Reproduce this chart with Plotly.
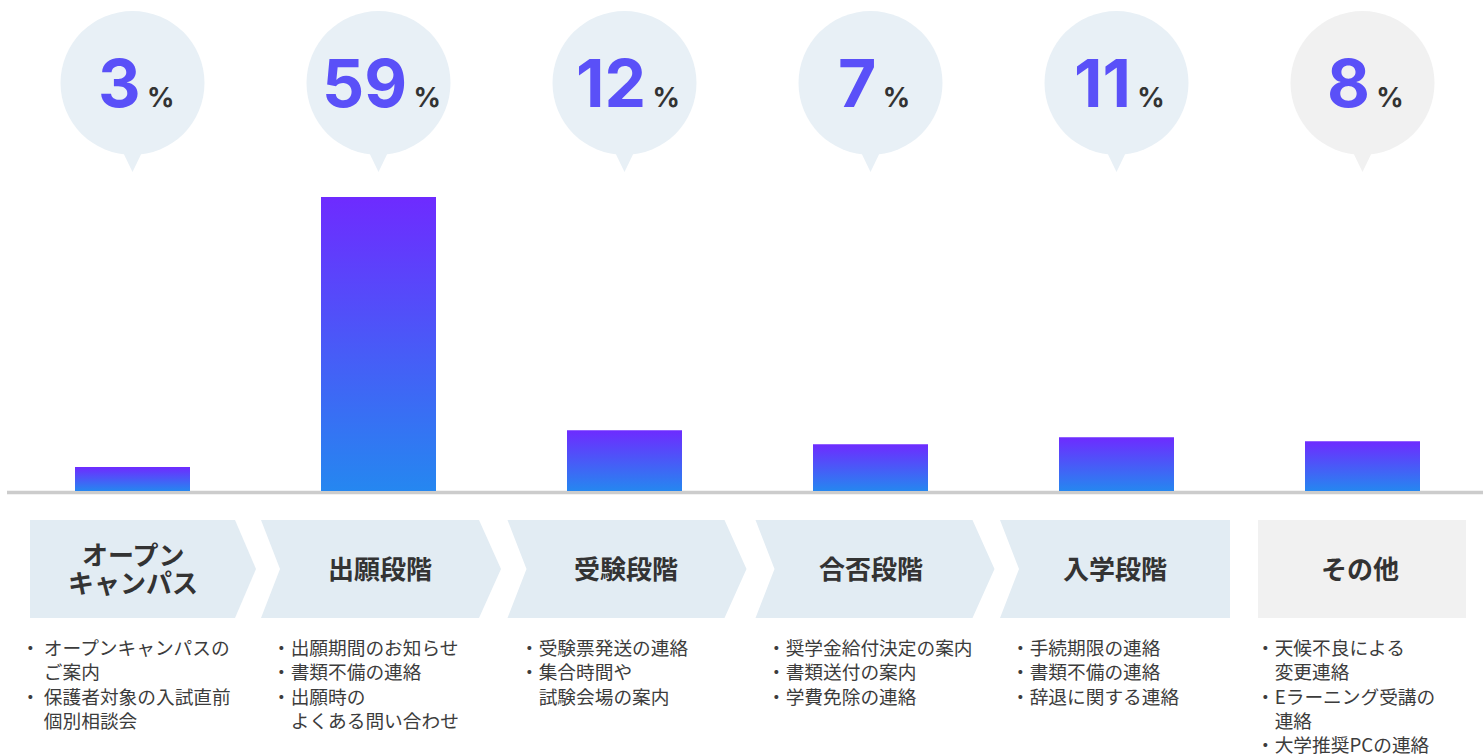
import plotly.graph_objects as go

# ---------------- data ----------------
stage_names = [["オープン", "キャンパス"], ["出願段階"], ["受験段階"], ["合否段階"], ["入学段階"], ["その他"]]
percent_labels = [3, 59, 12, 7, 11, 8]
# bar lengths as drawn in the picture (same unit as the percentages)
bar_heights = [4.8, 59, 12.2, 9.4, 10.8, 10.0]
details = [
    ["・ オープンキャンパスの", "　 ご案内", "・ 保護者対象の入試直前", "　 個別相談会"],
    ["・出願期間のお知らせ", "・書類不備の連絡", "・出願時の", "　よくある問い合わせ"],
    ["・受験票発送の連絡", "・集合時間や", "　試験会場の案内"],
    ["・奨学金給付決定の案内", "・書類送付の案内", "・学費免除の連絡"],
    ["・手続期限の連絡", "・書類不備の連絡", "・辞退に関する連絡"],
    ["・天候不良による", "　変更連絡", "・Eラーニング受講の", "　連絡", "・大学推奨PCの連絡"],
]

# ---------------- layout constants ----------------
W, H = 1483, 755
STEP = 246.0            # px between categories
FIRST = 132.5           # px centre of first category
BASE_PX = 491.0         # px of the zero line
PPU = 294.0 / 59.0      # px per percent unit
xr0 = -FIRST / STEP
xr1 = xr0 + W / STEP
yr0 = -(H - BASE_PX) / PPU
yr1 = BASE_PX / PPU
HALF = 57.5 / STEP

def py(px):
    return 1 - px / H

fig = go.Figure()

# gradient bars
for i, v in enumerate(bar_heights):
    fig.add_trace(go.Scatter(
        x=[i - HALF, i + HALF, i + HALF, i - HALF, i - HALF],
        y=[0, 0, v, v, 0],
        mode="lines", line=dict(width=0), fill="toself",
        fillgradient=dict(type="vertical",
                          colorscale=[[0, "#2587f0"], [1, "#6e2bff"]]),
        hoverinfo="skip", showlegend=False))

shapes = []
annotations = []

# baseline
shapes.append(dict(type="line", xref="paper", yref="y", x0=7 / W, x1=1, y0=-1.6 / PPU, y1=-1.6 / PPU,
                   line=dict(color="#cccccc", width=3.5), layer="below"))

circle_colors = ["#e8f0f6"] * 5 + ["#f1f1f1"]
for i, p in enumerate(percent_labels):
    c = circle_colors[i]
    shapes.append(dict(type="circle", xref="x", yref="paper", xsizemode="pixel", ysizemode="pixel",
                       xanchor=i, yanchor=py(83), x0=-72, x1=72, y0=-72, y1=72,
                       fillcolor=c, line=dict(width=0), layer="below"))
    shapes.append(dict(type="path", xref="x", yref="paper", xsizemode="pixel", ysizemode="pixel",
                       xanchor=i, yanchor=py(83), path="M -14,-60 L 14,-60 L 0,-89 Z",
                       fillcolor=c, line=dict(width=0), layer="below"))
    annotations.append(dict(
        xref="x", yref="paper", x=i, y=py(83), xanchor="center", yanchor="middle",
        xshift=3, yshift=0, showarrow=False,
        text=(f"<b><span style='font-size:66px;color:#5a50f8'>{p}</span>"
              f"<span style='font-size:27px;color:#333333'> %</span></b>"),
        font=dict(family="Inter", size=27, color="#333333")))

# chevrons
chev_paths = [
    "M -102.5,49 L 102.5,49 L 123.5,0 L 102.5,-49 L -102.5,-49 Z",
    "M -117.5,49 L 100.5,49 L 122.5,0 L 100.5,-49 L -117.5,-49 L -98.5,0 Z",
    "M -117,49 L 100,49 L 122,0 L 100,-49 L -117,-49 L -98,0 Z",
    "M -115,49 L 102,49 L 124,0 L 102,-49 L -115,-49 L -96,0 Z",
    "M -116.5,49 L 113.5,49 L 113.5,-49 L -116.5,-49 L -97.5,0 Z",
    "M -104.5,49 L 103.5,49 L 103.5,-49 L -104.5,-49 Z",
]
chev_colors = ["#e2ecf3"] * 5 + ["#f1f1f1"]
for i, pth in enumerate(chev_paths):
    shapes.append(dict(type="path", xref="x", yref="paper", xsizemode="pixel", ysizemode="pixel",
                       xanchor=i, yanchor=py(569), path=pth,
                       fillcolor=chev_colors[i], line=dict(width=0), layer="below"))

title_shift = [0, 1, 1, 0, -2, -3]
for i, lines in enumerate(stage_names):
    n = len(lines)
    for k, ln in enumerate(lines):
        off = (k - (n - 1) / 2) * 28
        annotations.append(dict(
            xref="x", yref="paper", x=i, y=py(567 + off), xanchor="center", yanchor="middle",
            xshift=title_shift[i], showarrow=False, text=f"<b>{ln}</b>",
            font=dict(family="Noto Sans CJK JP", size=26, color="#333333")))

detail_shift = [-114, -108.5, -107, -106, -107.5, -108.5]
for i, lines in enumerate(details):
    annotations.append(dict(
        xref="x", yref="paper", x=i, y=py(631), xanchor="left", yanchor="top",
        xshift=detail_shift[i], showarrow=False, align="left",
        text="<br>".join(lines),
        font=dict(family="Noto Sans CJK JP", size=18.7, color="#3c3c3c")))

fig.update_layout(
    width=W, height=H, margin=dict(l=0, r=0, t=0, b=0),
    paper_bgcolor="white", plot_bgcolor="white",
    xaxis=dict(range=[xr0, xr1], visible=False, fixedrange=True),
    yaxis=dict(range=[yr0, yr1], visible=False, fixedrange=True),
    shapes=shapes, annotations=annotations, showlegend=False,
)

fig.write_html("out.html", config=dict(displayModeBar=False, staticPlot=True),
               post_script="document.body.style.margin='0';document.body.style.overflow='hidden';")
